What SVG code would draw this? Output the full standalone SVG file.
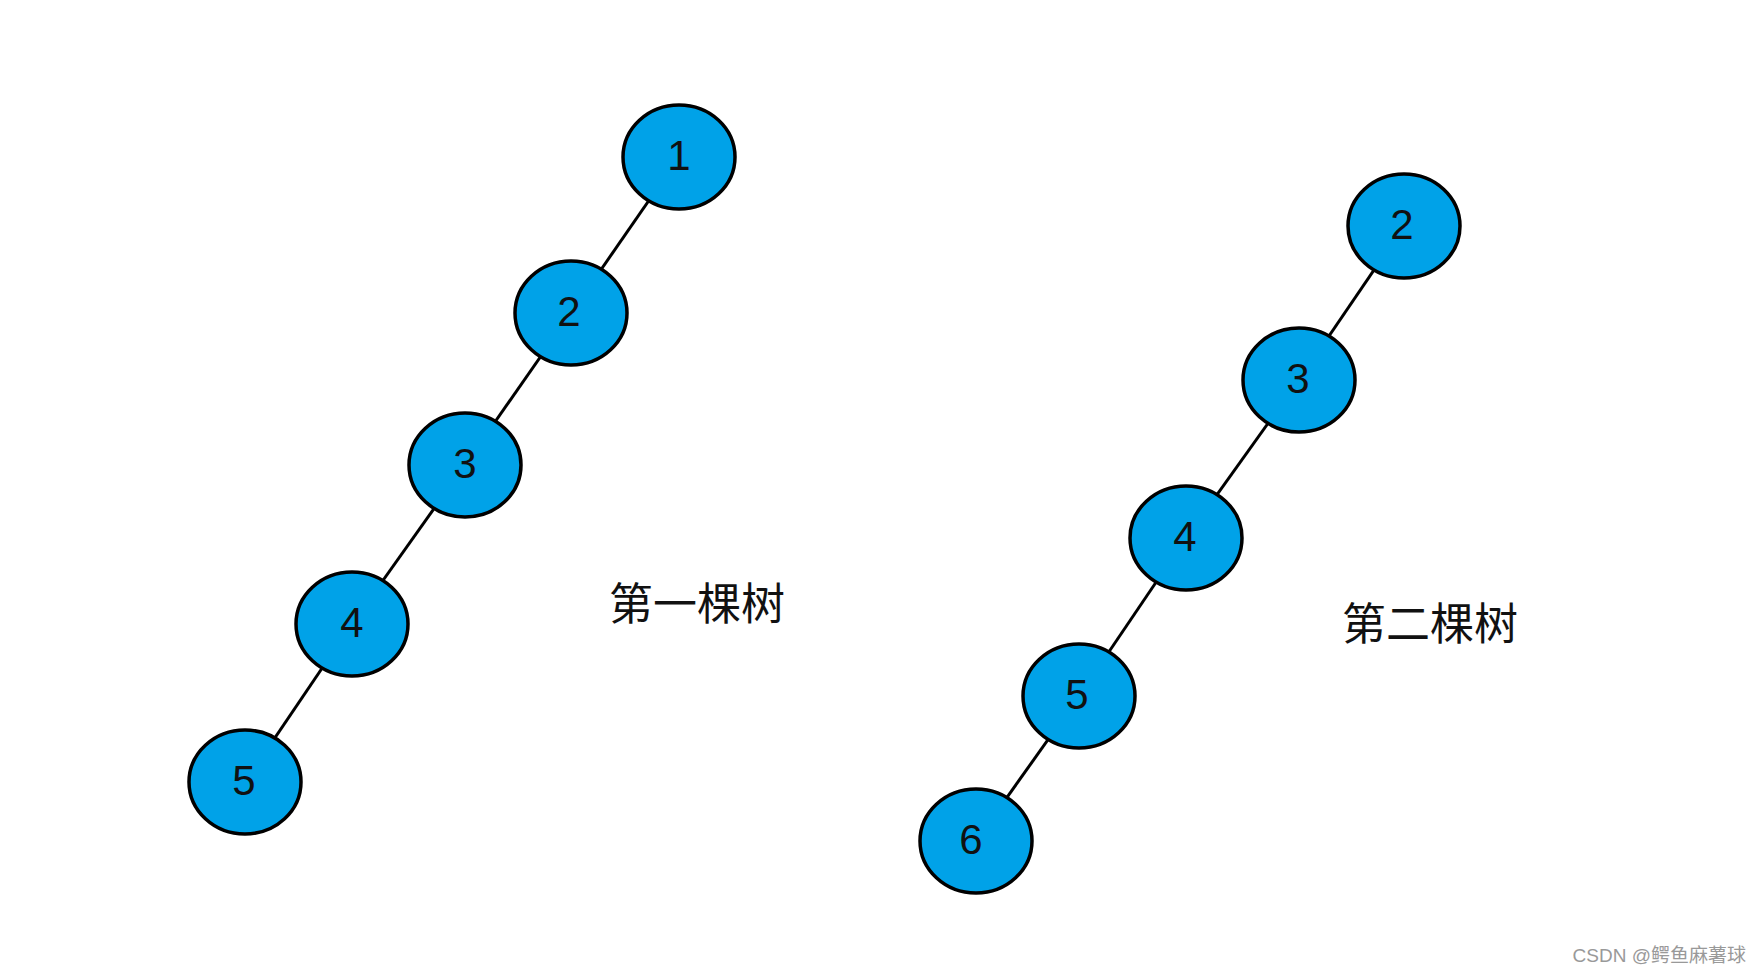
<svg xmlns="http://www.w3.org/2000/svg" width="1763" height="980" viewBox="0 0 1763 980">
<style>
.n{fill:#00a2e8;stroke:#000;stroke-width:3.5}
.t{font-family:"Liberation Sans",Arial,sans-serif;font-size:42px;fill:#111;text-anchor:middle;dominant-baseline:central}
.e{stroke:#000;stroke-width:3;fill:none}
.l{font-family:"Noto Sans CJK SC",serif;font-size:44px;fill:#111;text-anchor:middle;dominant-baseline:central}
</style>
<rect width="1763" height="980" fill="#fff"/>
<g id="connectors">
<line class="e" x1="679" y1="157" x2="571" y2="313"/>
<line class="e" x1="571" y1="313" x2="465" y2="465"/>
<line class="e" x1="465" y1="465" x2="352" y2="624"/>
<line class="e" x1="352" y1="624" x2="245" y2="782"/>
<line class="e" x1="1404" y1="226" x2="1299" y2="380"/>
<line class="e" x1="1299" y1="380" x2="1186" y2="538"/>
<line class="e" x1="1186" y1="538" x2="1079" y2="696"/>
<line class="e" x1="1079" y1="696" x2="976" y2="841"/>
</g>
<g id="t1n1"><ellipse class="n" cx="679" cy="157" rx="56" ry="52"/><text class="t" x="679" y="155">1</text></g>
<g id="t1n2"><ellipse class="n" cx="571" cy="313" rx="56" ry="52"/><text class="t" x="569" y="311">2</text></g>
<g id="t1n3"><ellipse class="n" cx="465" cy="465" rx="56" ry="52"/><text class="t" x="465" y="463">3</text></g>
<g id="t1n4"><ellipse class="n" cx="352" cy="624" rx="56" ry="52"/><text class="t" x="352" y="622">4</text></g>
<g id="t1n5"><ellipse class="n" cx="245" cy="782" rx="56" ry="52"/><text class="t" x="244" y="780">5</text></g>
<g id="t2n2"><ellipse class="n" cx="1404" cy="226" rx="56" ry="52"/><text class="t" x="1402" y="224">2</text></g>
<g id="t2n3"><ellipse class="n" cx="1299" cy="380" rx="56" ry="52"/><text class="t" x="1298" y="378">3</text></g>
<g id="t2n4"><ellipse class="n" cx="1186" cy="538" rx="56" ry="52"/><text class="t" x="1185" y="536">4</text></g>
<g id="t2n5"><ellipse class="n" cx="1079" cy="696" rx="56" ry="52"/><text class="t" x="1077" y="694">5</text></g>
<g id="t2n6"><ellipse class="n" cx="976" cy="841" rx="56" ry="52"/><text class="t" x="971" y="839">6</text></g>
<text class="l" x="697" y="601">第一棵树</text>
<text class="l" x="1430" y="621">第二棵树</text>
<text x="1746" y="962" font-family="'Liberation Sans','Noto Sans CJK SC',sans-serif" font-size="19" fill="#999" text-anchor="end">CSDN @鳄鱼麻薯球</text>
</svg>
